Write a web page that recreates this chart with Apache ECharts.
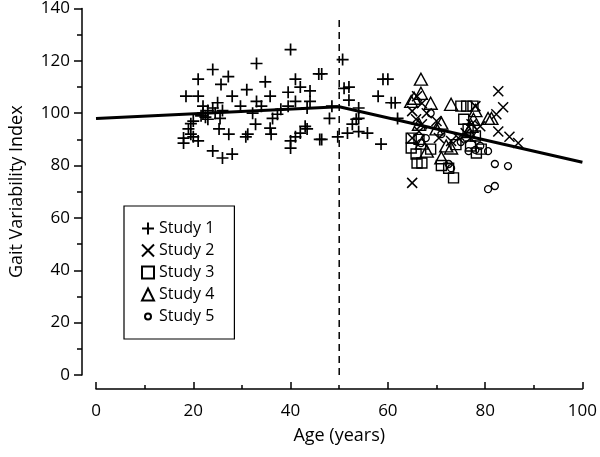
<!DOCTYPE html>
<html>
<head>
<meta charset="utf-8">
<script src="https://cdn.jsdelivr.net/npm/echarts@6/dist/echarts.min.js"></script>
<style>
html,body{margin:0;padding:0;background:#fff;}
#chart{width:600px;height:457px;}
</style>
</head>
<body>
<div id="chart"></div>
<script>
// ---- data ----
var seriesNames = ['Study 1', 'Study 2', 'Study 3', 'Study 4', 'Study 5'];
var xTicks = [0, 20, 40, 60, 80, 100];
var yTicks = [0, 20, 40, 60, 80, 100, 120, 140];

var study1 = [
  [24,116.7],[21,113],[27.2,114],[25.7,111],[18.5,106.5],[21,106.5],[28,106.5],[31,109],
  [29.7,102.7],[25,104],[22,102.7],[24,102],[21.6,99],[23,97.7],[19.5,96],[19,94],[20,91],
  [18,88.6],[21,89.4],[25.3,94],[27.3,92],[30.8,91],[24,85.6],[26,82.9],[28,84.4],[22,100],
  [18,90.5],[19.5,92],[20,97],[23,101],[24.5,100],[26,101],[22.5,98.5],[25.5,98],
  [40,124.3],[33,119],[45.8,115],[34.8,112],[41,113],[42,110],[44,108.5],[39.5,108],[35.8,106.5],
  [33,104.5],[34,102.7],[39.5,102.7],[43.4,102],[41,104.5],[44,104.5],[32.2,100],[37.3,99.6],
  [36.3,98],[38,101.5],[32.8,95.8],[35.8,94.3],[36,92],[43,95],[43.4,94],[42,92.4],[41,91],
  [40,89.4],[40,86.7],[46,90],[31.2,92],[48,98],[48.5,102.7],[49.7,91],
  [50.7,120.5],[51,109.5],[52,110],[59,113],[60,113],[58,106.5],[60.7,104],[54,102],
  [46.4,115],[46.4,90],[51.7,92.4],[55.8,92.4],[58.6,88.2],[52.7,95.8],[53.5,97.7],
  [62,98],[52,105],[54,93],[54,98],[61.5,104]
];
var study2 = [
  [82.7,108.4],[83.7,102.3],[82.3,99.6],[78,102.7],[82.7,93],[85,91],[86.8,88.6],[65,73.4],
  [67,103.8],[65,100.8],[65.8,97.7],[67,95.8],[70,97],[65,90.5],[66.4,93],[70.5,90.5],
  [73,89.4],[74.5,90.5],[77.2,95.8],[77,90.5],[76,92.4],[68,100],[79,95],[66,106.5]
];
var study3 = [
  [75,102.7],[76.2,102.7],[77.5,102.7],[75.6,97.7],[64.8,86.7],[65.8,84.4],[66,81],[67,81],
  [68.8,86.3],[71,80],[73.5,75.3],[72.5,79],[77,87.5],[79.2,86.3],[78.2,84.8],[78,91.3],
  [66.4,90],[64.8,90.5],[76.5,94],[74,88]
];
var study4 = [
  [66.8,113],[66.8,107.6],[65.4,105.7],[68.8,103.8],[64.8,104.5],[73,103.4],[80.6,98],
  [81.3,98],[71,96.2],[67,88.6],[68,85.5],[71,83],[73,86.7],[76.6,93],[77.2,95],
  [77.6,97.7],[66.4,95.8],[78,101],[70,94],[72,87.5]
];
var study5 = [
  [80.6,85.5],[82,80.6],[84.7,79.8],[80.6,71],[82,72.2],[72.5,80.6],[73,79],[76.6,85.5],
  [68.8,100],[79,87.5],[66.8,88.6],[71,92],[67.8,90.5],[75,89],[78,86]
];
var fitLine = [[0,98],[50,102.5],[100,81.3]];
var breakAge = [[50,0],[50,137]];

// ---- chart ----
var plusPath = 'path://M0,-6V6M-6,0H6';
var crossPath = 'path://M-5,-5L5,5M-5,5L5,-5';
var smallCircleLegend = 'path://M-6,-6M6,6M0,-3A3,3 0 1 1 0,3A3,3 0 1 1 0,-3Z';
var FONT = '"Open Sans", "Noto Sans", sans-serif';

function scatter(name, data, symbol, size, bw) {
  return {
    type: 'scatter', name: name, data: data, symbol: symbol, symbolSize: size,
    itemStyle: { color: 'rgba(0,0,0,0)', borderColor: '#000', borderWidth: bw, opacity: 1 },
    emphasis: { disabled: true }, z: 3
  };
}

var chart = echarts.init(document.getElementById('chart'), null, { renderer: 'canvas' });
chart.setOption({
  animation: false,
  backgroundColor: '#fff',
  textStyle: { fontFamily: FONT, color: '#000' },
  grid: { left: 94, right: 15, top: 7, bottom: 82, containLabel: false },
  legend: {
    orient: 'vertical', left: 124, top: 206,
    padding: [14, 20, 14, 17],
    itemGap: 5, itemWidth: 12, itemHeight: 12,
    borderColor: '#000', borderWidth: 1.2,
    textStyle: { fontFamily: FONT, fontSize: 16, color: '#000', lineHeight: 17 },
    data: [
      { name: 'Study 1', icon: plusPath },
      { name: 'Study 2', icon: crossPath },
      { name: 'Study 3', icon: 'rect' },
      { name: 'Study 4', icon: 'triangle' },
      { name: 'Study 5', icon: smallCircleLegend }
    ]
  },
  xAxis: {
    type: 'value', min: 0, max: 100, interval: 20, offset: 14,
    name: 'Age (years)', nameLocation: 'middle', nameGap: 38,
    nameTextStyle: { fontFamily: FONT, fontSize: 18, color: '#000' },
    axisLine: { show: true, onZero: false, lineStyle: { color: '#000', width: 1.5 } },
    axisTick: { show: true, inside: true, length: 7, lineStyle: { color: '#000', width: 1.5 } },
    minorTick: { show: true, splitNumber: 2, length: 4, lineStyle: { color: '#000', width: 1.5 } },
    axisLabel: { fontFamily: FONT, fontSize: 17, color: '#000', margin: 14,
      formatter: function (v) { return xTicks.indexOf(v) >= 0 ? String(v) : ''; } },
    splitLine: { show: false }
  },
  yAxis: {
    type: 'value', min: 0, max: 140, interval: 20, offset: 14,
    name: 'Gait Variability Index', nameLocation: 'middle', nameGap: 56,
    nameTextStyle: { fontFamily: FONT, fontSize: 18, color: '#000' },
    axisLine: { show: true, onZero: false, lineStyle: { color: '#000', width: 1.5 } },
    axisTick: { show: true, inside: false, length: 8, lineStyle: { color: '#000', width: 1.5 } },
    minorTick: { show: true, splitNumber: 2, length: 5, lineStyle: { color: '#000', width: 1.5 } },
    axisLabel: { fontFamily: FONT, fontSize: 17, color: '#000', margin: 12,
      formatter: function (v) { return yTicks.indexOf(v) >= 0 ? String(v) : ''; } },
    splitLine: { show: false }
  },
  series: [
    scatter('Study 1', study1, plusPath, 12, 1.7),
    scatter('Study 2', study2, crossPath, 10, 1.5),
    scatter('Study 3', study3, 'rect', 10, 1.4),
    scatter('Study 4', study4, 'triangle', [13, 12], 1.4),
    scatter('Study 5', study5, 'circle', 7, 1.3),
    {
      type: 'line', data: fitLine, symbol: 'none', z: 4,
      lineStyle: { color: '#000', width: 3 }, emphasis: { disabled: true }, silent: true
    },
    {
      type: 'line', data: breakAge, symbol: 'none', z: 2,
      lineStyle: { color: '#000', width: 1.5, type: [7, 5] }, emphasis: { disabled: true }, silent: true
    }
  ]
});
</script>
</body>
</html>
